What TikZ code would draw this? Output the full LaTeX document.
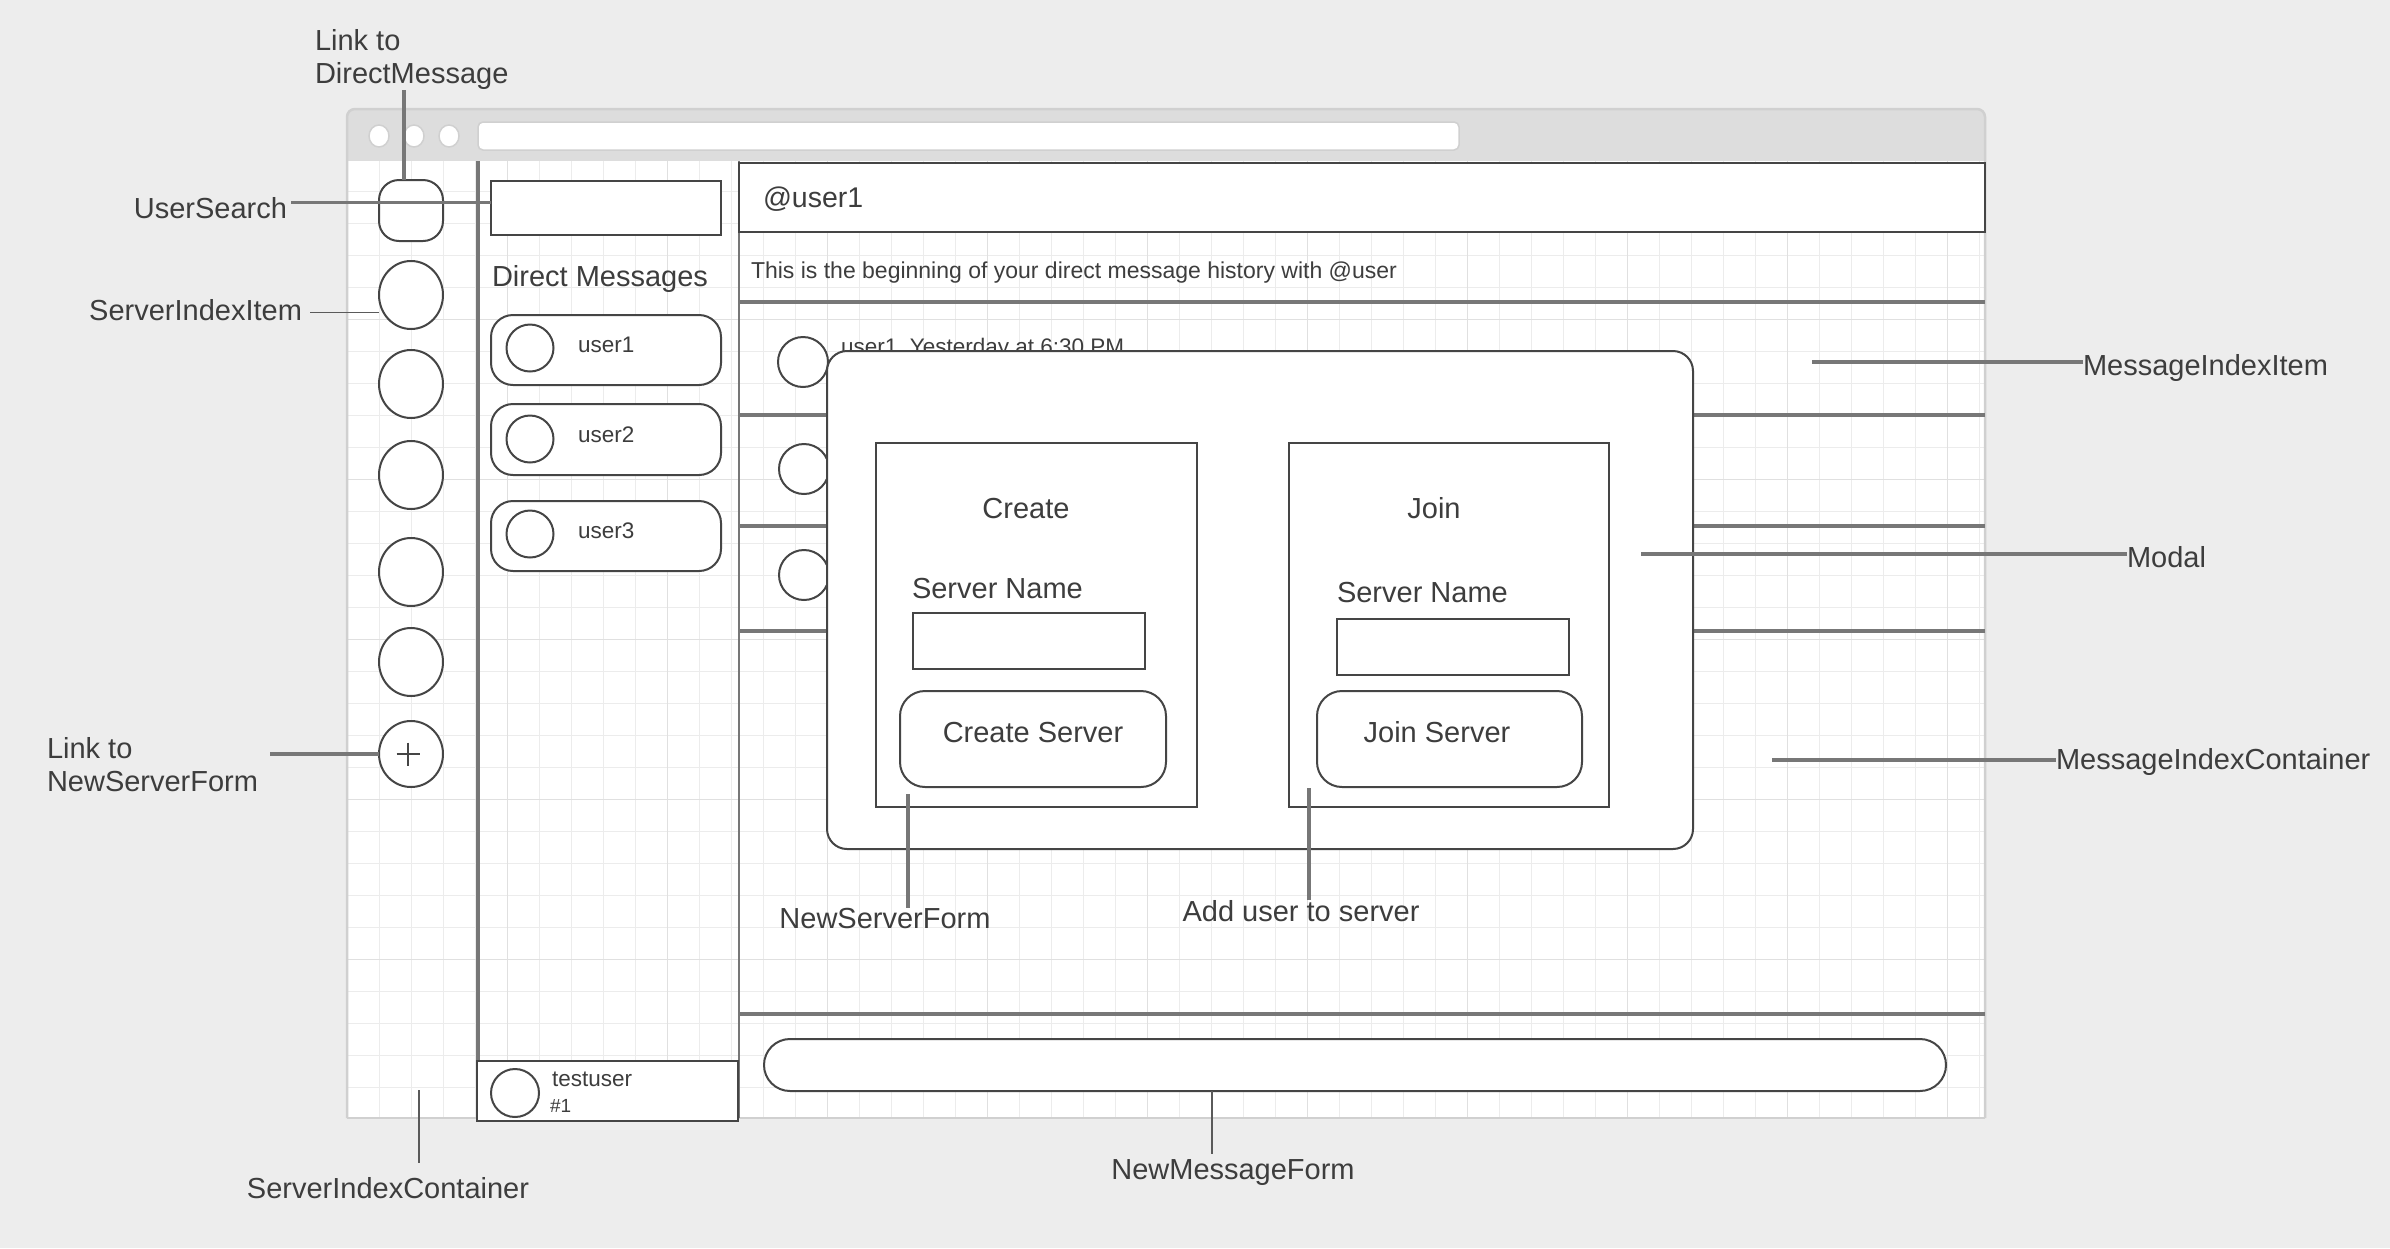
\documentclass[tikz,border=0pt]{standalone}
\usepackage{fontspec}
\setmainfont{Liberation Sans}
\usetikzlibrary{shapes.geometric}
\definecolor{bgc}{HTML}{EDEDED}
\definecolor{hdrc}{HTML}{DDDDDD}
\definecolor{bordc}{HTML}{D0D0D0}
\definecolor{gridmin}{HTML}{ECECEC}
\definecolor{gridmaj}{HTML}{E0E0E0}
\definecolor{cLine}{HTML}{454545}
\definecolor{cSep}{HTML}{777777}
\definecolor{cThin}{HTML}{5A5A5A}
\definecolor{cText}{HTML}{3D3D3D}
\newcommand\myfs[1]{\fontsize{#1}{#1}\selectfont}
\begin{document}
\begin{tikzpicture}[x=1pt,y=-1pt,
  box/.style={draw=cLine, line width=2pt, fill=white, inner sep=0pt, outer sep=0pt},
  sz/.style n args={2}{minimum width=#1pt, minimum height=#2pt},
  sepline/.style={draw=cSep, line width=3.6pt},
  callout/.style={draw=cSep, line width=3.6pt},
  thinline/.style={draw=cThin, line width=1.5pt},
  txt/.style={inner sep=0pt, outer sep=0pt, text=cText},
  lbl/.style={txt, font=\fontsize{29}{33}\selectfont},
  light/.style={draw=bordc, line width=1.5pt, fill=white}]
\useasboundingbox (0,0) rectangle (2390,1248);
\fill[bgc] (0,0) rectangle (2390,1248);
% browser window
\fill[hdrc, rounded corners=8pt] (347,109) rectangle (1985,1118);
\fill[white] (347,161) rectangle (1985,1118);
\foreach \i in {1,...,51} \draw[gridmin, line width=1.5pt] (347.3+32*\i,161) -- (347.3+32*\i,1118);
\foreach \k in {1,...,29} \draw[gridmin, line width=1.5pt] (347,159.5+32*\k) -- (1985,159.5+32*\k);
\foreach \i in {5,10,...,50} \draw[gridmaj, line width=1.5pt] (347.3+32*\i,161) -- (347.3+32*\i,1118);
\foreach \k in {5,10,...,25} \draw[gridmaj, line width=1.5pt] (347,159.5+32*\k) -- (1985,159.5+32*\k);
\foreach \x in {379,414,449} \draw[light] (\x,136) ellipse [x radius=10pt, y radius=11pt];
\draw[light, rounded corners=5pt] (478,122) rectangle (1459,150);
\draw[bordc, line width=2.5pt, rounded corners=8pt] (347,1118) -- (347,109) -- (1985,109) -- (1985,1118);
\draw[bordc, line width=2.5pt] (347,1118) -- (1985,1118);
% dividers
\draw[cSep, line width=3.4pt] (478,161) -- (478,1061);
\draw[cSep, line width=2pt] (739,161) -- (739,1118);
% server column
\node[box, sz={64}{61}, rounded corners=20pt, anchor=north west] (dmicon) at (379,180) {};
\foreach \n/\y in {s1/295,s2/384,s3/475,s4/572,s5/662}
  \node[box, ellipse, sz={64}{68}] (\n) at (411,\y) {};
\node[box, ellipse, sz={64}{66}] (plus) at (411,754) {};
\draw[cLine, line width=2.5pt] ([xshift=-14.5pt]plus.center) -- ([xshift=8.5pt]plus.center);
\draw[cLine, line width=2.5pt] ([xshift=-3pt,yshift=11.5pt]plus.center) -- ([xshift=-3pt,yshift=-11.5pt]plus.center);
% direct messages column
\node[box, sz={230}{54}, anchor=north west] (search) at (491,181) {};
\node[txt, font=\myfs{29}, anchor=base west] (dmhead) at (492,286) {Direct Messages};
\node[box, sz={230}{70}, rounded corners=22pt, anchor=north west] (u1) at (491,315) {};
\node[box, circle, minimum size=47pt] (u1a) at (530,348) {};
\node[txt, font=\myfs{22.5}, anchor=base west] (u1t) at (578,352) {user1};
\node[box, sz={230}{71}, rounded corners=22pt, anchor=north west] (u2) at (491,404) {};
\node[box, circle, minimum size=47pt] (u2a) at (530,439) {};
\node[txt, font=\myfs{22.5}, anchor=base west] (u2t) at (578,442) {user2};
\node[box, sz={230}{70}, rounded corners=22pt, anchor=north west] (u3) at (491,501) {};
\node[box, circle, minimum size=47pt] (u3a) at (530,534) {};
\node[txt, font=\myfs{22.5}, anchor=base west] (u3t) at (578,538) {user3};
\node[box, sz={261}{60}, anchor=north west] (me) at (477,1061) {};
\node[box, circle, minimum size=48pt] (mea) at (515,1093) {};
\node[txt, font=\myfs{22.5}, anchor=base west] (met) at (552,1086) {testuser};
\node[txt, font=\myfs{19}, anchor=base west] (men) at (550,1112) {\#1};
% chat area
\node[box, sz={1246}{69}, anchor=north west] (chathead) at (739,163) {};
\node[txt, font=\myfs{28.5}, anchor=base west] (chatname) at (763,207) {@user1};
\node[txt, font=\myfs{23}, anchor=base west] (intro) at (751,278) {This is the beginning of your direct message history with @user};
\foreach \y in {302,415,526,631} \draw[sepline] (739,\y) -- (1985,\y);
\node[box, circle, minimum size=50pt] (m1) at (803,362) {};
\node[box, circle, minimum size=50pt] (m2) at (804,469) {};
\node[box, circle, minimum size=50pt] (m3) at (804,575) {};
\node[txt, font=\myfs{22.5}, anchor=base west] (m1t) at (841,354) {user1\hspace{0.556em}Yesterday at 6:30 PM};
% modal
\node[box, sz={866}{498}, rounded corners=20pt, anchor=north west] (modal) at (827,351) {};
\node[box, sz={321}{364}, anchor=north west] (create) at (876,443) {};
\node[box, sz={320}{364}, anchor=north west] (join) at (1289,443) {};
\node[txt, font=\myfs{29}, anchor=base] (createt) at (1026,518) {Create};
\node[txt, font=\myfs{29}, anchor=base] (joint) at (1434,518) {Join};
\node[txt, font=\myfs{29}, anchor=base west] (csn) at (912,598) {Server Name};
\node[txt, font=\myfs{29}, anchor=base west] (jsn) at (1337,602) {Server Name};
\node[box, sz={232}{56}, anchor=north west] (cin) at (913,613) {};
\node[box, sz={232}{56}, anchor=north west] (jin) at (1337,619) {};
\node[box, sz={266}{96}, rounded corners=25pt, anchor=north west] (cbtn) at (900,691) {};
\node[box, sz={265}{96}, rounded corners=25pt, anchor=north west] (jbtn) at (1317,691) {};
\node[txt, font=\myfs{29}, anchor=base] (cbtnt) at (1033,742) {Create Server};
\node[txt, font=\myfs{29}, anchor=base] (jbtnt) at (1437,742) {Join Server};
% message form
\draw[sepline] (739,1014) -- (1985,1014);
\node[box, sz={1182}{52}, rounded corners=26pt, anchor=north west] (msgin) at (764,1039) {};
% labels and callouts
\node[lbl, align=left, anchor=north west] (lDM) at (315,29) {Link to\\DirectMessage};
\coordinate (cDM) at (404,90);
\draw[callout] (cDM) -- (cDM |- dmicon.north);
\node[lbl, anchor=base east] (lUS) at (287,218) {UserSearch};
\coordinate (usR) at ([xshift=4pt,yshift=5pt]lUS.east);
\draw[callout] (usR) -- (usR -| search.west);
\node[lbl, anchor=base east] (lSI) at (302,320) {ServerIndexItem};
\coordinate (siR) at ([xshift=8pt,yshift=-3pt]lSI.east);
\draw[thinline] (siR) -- (siR -| s1.west);
\node[lbl, align=left, anchor=north west] (lNS) at (47,737) {Link to\\NewServerForm};
\coordinate (nsR) at (270,754);
\draw[callout] (nsR) -- (nsR -| plus.west);
\node[lbl, anchor=base] (lSC) at (388,1198) {ServerIndexContainer};
\coordinate (scTop) at (419,1090);
\draw[thinline] (scTop) -- ([yshift=14pt]scTop |- lSC.north);
\node[lbl, anchor=base] (lNSF) at (885,928) {NewServerForm};
\coordinate (nsfTop) at (908,794);
\draw[callout] (nsfTop) -- (nsfTop |- lNSF.north);
\node[lbl, anchor=base] (lAU) at (1301,921) {Add user to server};
\coordinate (auTop) at (1309,788);
\draw[callout] (auTop) -- (auTop |- lAU.north);
\node[lbl, anchor=base] (lNM) at (1233,1179) {NewMessageForm};
\coordinate (nmTop) at (1212,1091);
\draw[thinline] (nmTop) -- ([yshift=5pt]nmTop |- lNM.north);
\node[lbl, anchor=base west] (lMI) at (2083,375) {MessageIndexItem};
\coordinate (miL) at (1812,362);
\draw[callout] (miL) -- (miL -| lMI.west);
\node[lbl, anchor=base west] (lMo) at (2127,567) {Modal};
\coordinate (moL) at (1641,554);
\draw[callout] (moL) -- (moL -| lMo.west);
\node[lbl, anchor=base west] (lMC) at (2056,769) {MessageIndexContainer};
\coordinate (mcL) at (1772,760);
\draw[callout] (mcL) -- (mcL -| lMC.west);
\end{tikzpicture}
\end{document}
